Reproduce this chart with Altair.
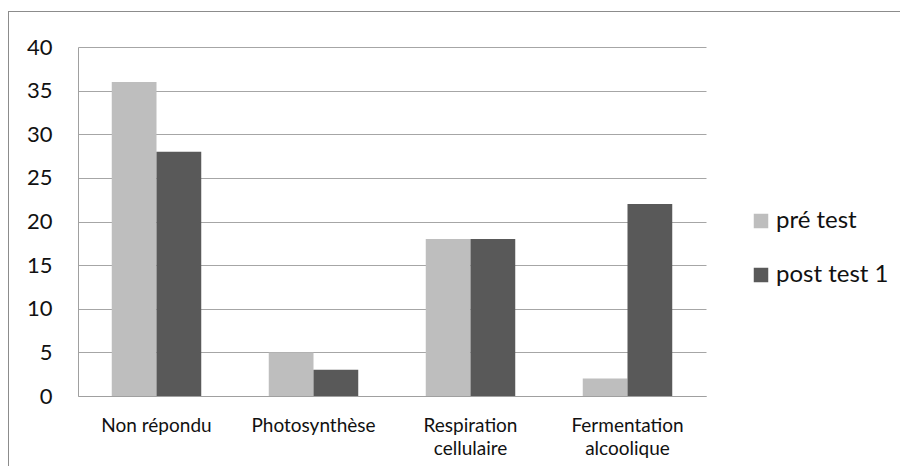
import altair as alt
import pandas as pd

categories = ["Non répondu", "Photosynthèse", "Respiration\ncellulaire", "Fermentation\nalcoolique"]
series = ["pré test", "post test 1"]
pre_test = [36, 5, 18, 2]
post_test_1 = [28, 3, 18, 22]
y_ticks = [0, 5, 10, 15, 20, 25, 30, 35, 40]
colors = ["#BEBEBE", "#595959"]

rows = []
for c, a, b in zip(categories, pre_test, post_test_1):
    rows.append({"cat": c, "serie": series[0], "val": a})
    rows.append({"cat": c, "serie": series[1], "val": b})
df = pd.DataFrame(rows)

FONT = "Lato"
W, H = 628, 349

bars = alt.Chart(df).mark_bar().encode(
    x=alt.X("cat:N", sort=categories, title=None,
            scale=alt.Scale(paddingInner=0.43, paddingOuter=0.215),
            axis=alt.Axis(labelAngle=0, ticks=False, labelPadding=20,
                          labelExpr="split(datum.label, '\\n')",
                          labelLineHeight=23, labelFontSize=19,
                          domainColor="#A0A0A0", labelColor="#111111",
                          labelFont=FONT)),
    xOffset=alt.XOffset("serie:N", sort=series, scale=alt.Scale(paddingInner=0, paddingOuter=0)),
    y=alt.Y("val:Q", title=None,
            scale=alt.Scale(domain=[0, 40], nice=False),
            axis=alt.Axis(values=y_ticks, ticks=False, labelPadding=26,
                          labelFontSize=22, labelFont=FONT, labelColor="#111111",
                          gridColor="#A6A6A6", domainColor="#A0A0A0")),
    color=alt.Color("serie:N", sort=series, title=None,
                    scale=alt.Scale(domain=series, range=colors),
                    legend=alt.Legend(orient="none", legendX=671, legendY=162,
                                      symbolType="square", symbolSize=210,
                                      symbolStrokeWidth=0, labelFontSize=24,
                                      labelFont=FONT, labelColor="#111111",
                                      labelOffset=3, rowPadding=30)),
)

border_data = alt.Data(values=[{"k": 1}])
top_line = alt.Chart(border_data).mark_rule(color="#8C8C8C", strokeWidth=1).encode(
    x=alt.value(-70), x2=alt.value(840), y=alt.value(-35.5)
)
left_line = alt.Chart(border_data).mark_rule(color="#8C8C8C", strokeWidth=1).encode(
    x=alt.value(-69.5), y=alt.value(-35.5), y2=alt.value(440)
)

chart = alt.layer(top_line, left_line, bars).properties(
    width=W, height=H,
    autosize=alt.AutoSizeParams(type="none"),
    padding={"left": 70, "top": 39, "right": 194, "bottom": 70},
).configure_view(stroke="transparent")

chart.save("out.html", embed_options={"renderer": "svg", "actions": False})
